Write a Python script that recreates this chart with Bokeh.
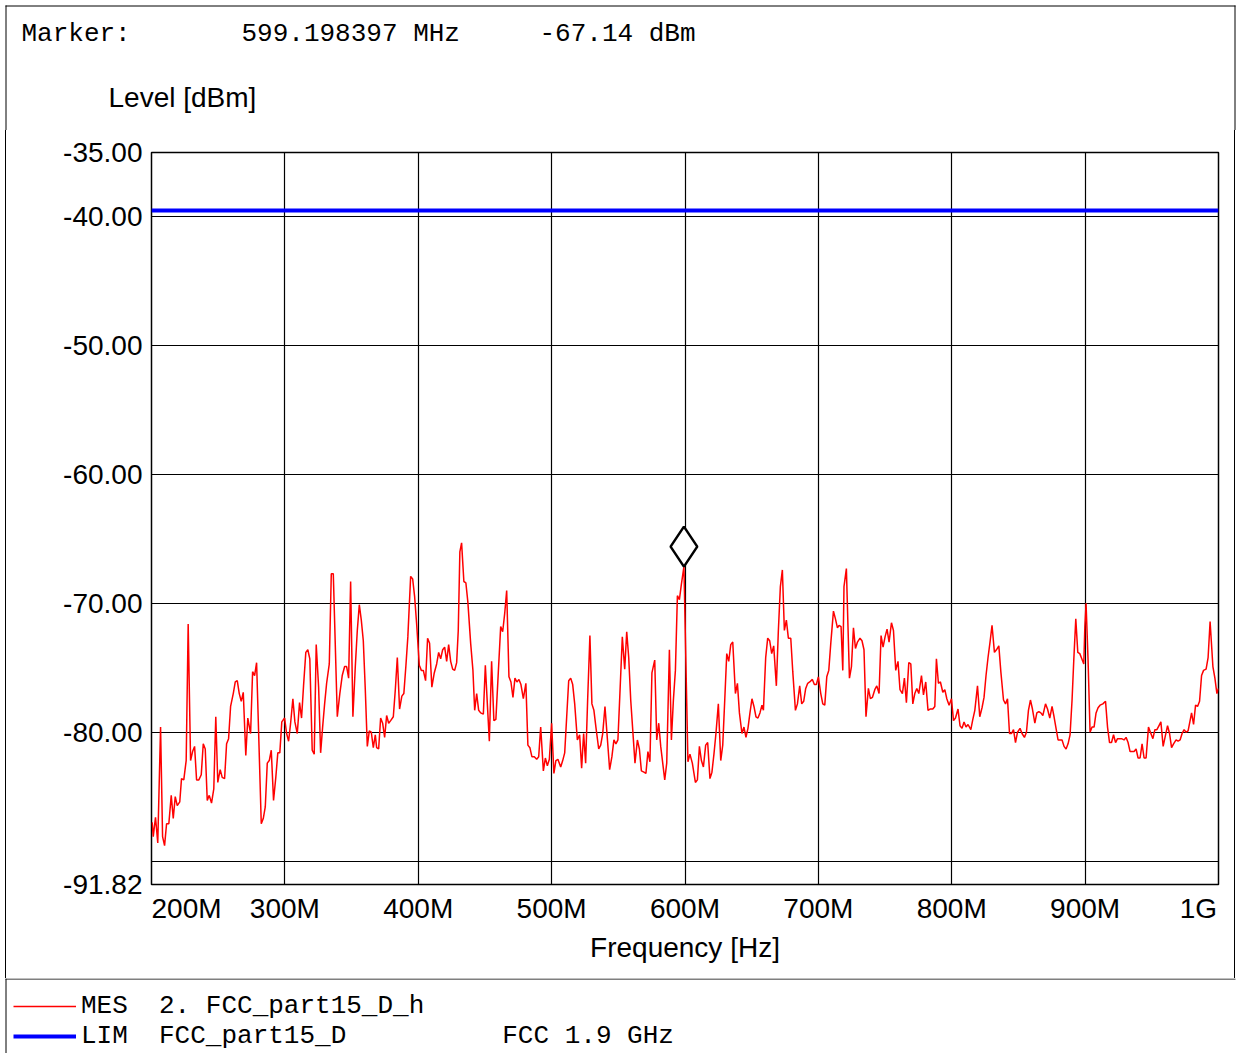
from bokeh.plotting import figure
from bokeh.layouts import column
from bokeh.models import Range1d, FixedTicker, Legend, LegendItem, ColumnDataSource
from bokeh.transform import dodge
from bokeh.core.properties import value
from bokeh.embed import file_html
from bokeh.resources import INLINE

# ---------------- data ----------------
freq_mhz = [200.5, 201.3, 203.0, 204.7, 206.8, 208.3, 209.8, 211.3, 213.0, 214.8, 216.3, 217.8, 219.3, 221.2,
            222.5, 224.2, 226.0, 227.5, 229.3, 230.8, 232.3, 233.8, 235.5, 237.3, 238.8, 240.3, 241.8, 243.3,
            245.0, 246.7, 248.2, 249.7, 251.5, 253.0, 254.8, 256.3, 257.8, 259.3, 261.3, 262.8, 264.3, 265.8,
            267.3, 268.8, 270.7, 272.2, 274.3, 275.8, 277.3, 278.8, 282.3, 283.8, 285.3, 286.8, 288.3, 289.8,
            291.5, 293.2, 294.7, 296.2, 297.7, 299.8, 301.3, 302.8, 304.3, 306.0, 307.5, 309.3, 311.0, 312.5,
            314.0, 315.7, 317.2, 318.7, 320.5, 322.0, 323.5, 325.3, 326.8, 328.3, 329.8, 331.3, 333.3, 334.8,
            336.3, 339.3, 341.2, 343.0, 344.8, 346.3, 347.8, 349.3, 351.0, 352.8, 354.3, 355.8, 357.3, 358.8,
            360.3, 361.8, 363.3, 364.8, 366.3, 367.8, 368.8, 370.3, 371.8, 373.3, 374.8, 376.3, 377.8, 379.3,
            381.3, 382.8, 384.3, 386.0, 387.7, 389.2, 390.7, 392.2, 394.3, 395.8, 397.3, 398.8, 400.8, 402.3,
            403.8, 405.5, 407.0, 408.5, 410.2, 412.0, 413.8, 415.3, 416.8, 418.3, 419.8, 421.3, 422.8, 424.3,
            425.8, 427.3, 428.8, 430.0, 431.2, 432.5, 434.2, 435.7, 437.2, 439.3, 441.0, 442.3, 443.8, 445.3,
            446.8, 448.8, 450.3, 451.8, 453.3, 455.0, 456.7, 458.2, 460.0, 461.8, 463.3, 464.8, 466.3, 468.0,
            469.5, 471.0, 472.5, 474.0, 475.5, 477.0, 478.8, 480.7, 482.2, 483.7, 485.2, 487.0, 488.8, 490.3,
            491.8, 493.8, 495.3, 496.8, 498.3, 500.0, 501.7, 503.2, 504.7, 506.8, 508.3, 509.8, 511.3, 512.8,
            514.3, 515.8, 517.3, 519.3, 521.0, 522.5, 524.0, 525.5, 527.0, 528.7, 530.2, 531.7, 533.2, 535.3,
            536.8, 538.3, 540.0, 541.5, 543.5, 545.2, 546.7, 548.2, 549.7, 551.2, 553.0, 554.8, 556.3, 557.8,
            559.3, 560.8, 562.5, 564.3, 565.8, 567.3, 569.2, 570.7, 572.2, 573.7, 575.2, 577.3, 578.8, 580.3,
            581.8, 583.3, 584.8, 586.3, 588.3, 589.8, 591.3, 592.8, 594.3, 595.8, 597.3, 599.2, 602.2, 603.7,
            605.5, 607.8, 609.3, 610.8, 612.3, 613.8, 615.5, 617.0, 618.7, 620.2, 621.7, 623.2, 625.0, 626.8,
            628.3, 629.8, 631.3, 632.8, 634.3, 635.8, 637.8, 639.3, 640.8, 642.7, 644.2, 645.7, 647.2, 648.7,
            650.2, 651.7, 653.2, 654.7, 656.2, 657.7, 658.8, 660.5, 662.0, 663.5, 665.0, 666.5, 668.5, 670.0,
            671.5, 673.0, 674.5, 676.0, 677.5, 679.3, 680.8, 682.8, 684.3, 686.0, 687.5, 689.0, 690.5, 692.0,
            693.5, 695.5, 697.0, 698.5, 700.0, 701.8, 703.3, 704.8, 706.3, 707.8, 709.3, 711.3, 712.8, 714.3,
            715.5, 717.0, 718.3, 719.2, 721.0, 722.2, 723.3, 724.8, 726.3, 727.8, 729.3, 731.2, 732.7, 734.2,
            735.7, 737.5, 739.0, 740.5, 742.3, 743.8, 745.5, 747.0, 748.5, 750.0, 751.5, 753.0, 754.8, 756.3,
            758.0, 759.7, 761.2, 763.0, 764.5, 766.0, 767.8, 769.3, 770.8, 772.3, 773.8, 775.3, 777.3, 778.8,
            780.5, 782.2, 783.7, 785.8, 787.3, 788.5, 790.0, 791.5, 793.3, 794.8, 796.3, 798.0, 799.8, 801.3,
            802.8, 804.7, 806.2, 807.7, 809.2, 810.7, 812.2, 814.3, 815.8, 817.3, 819.3, 821.0, 822.7, 824.2,
            825.7, 827.2, 828.7, 830.2, 832.0, 833.5, 835.3, 836.8, 838.8, 840.3, 841.8, 843.3, 844.8, 846.3,
            847.8, 849.3, 851.2, 852.7, 854.5, 856.0, 857.5, 859.0, 860.5, 862.3, 863.8, 865.3, 866.8, 868.3,
            870.3, 871.8, 873.5, 875.2, 876.7, 878.2, 879.7, 881.2, 882.7, 884.2, 885.7, 887.2, 888.7, 890.2,
            891.5, 893.0, 894.5, 896.0, 897.5, 899.0, 899.8, 900.7, 902.2, 903.7, 905.2, 906.7, 908.2, 909.7,
            911.2, 913.3, 915.3, 916.8, 918.3, 919.8, 921.3, 922.8, 924.3, 925.8, 927.3, 929.2, 930.7, 932.2,
            933.7, 935.2, 936.7, 938.2, 939.7, 941.2, 942.7, 944.2, 945.7, 947.5, 949.3, 950.8, 952.3, 953.8,
            955.3, 956.8, 958.5, 960.3, 961.8, 963.3, 964.8, 966.3, 968.2, 969.7, 971.2, 972.7, 974.2, 975.7,
            977.2, 978.7, 979.8, 981.3, 982.8, 984.3, 985.8, 987.3, 988.8, 990.7, 992.2, 993.7, 995.8, 997.3,
            998.8, 1000.0]

level_dbm = [-87.0, -88.1, -86.6, -88.6, -79.6, -88.1, -88.8, -87.1, -87.1, -84.9, -86.7, -85.0, -85.7, -85.4,
             -83.6, -83.7, -82.2, -71.6, -82.2, -81.5, -81.1, -83.7, -83.7, -83.3, -80.9, -81.3, -85.3, -84.9,
             -85.5, -84.4, -78.8, -83.9, -82.9, -83.5, -83.6, -80.9, -80.5, -78.0, -77.0, -76.1, -76.0, -77.0,
             -77.6, -76.9, -81.8, -78.9, -80.1, -75.3, -75.6, -74.6, -87.1, -86.7, -85.8, -82.4, -82.2, -81.4,
             -85.3, -83.5, -81.6, -81.6, -79.2, -78.9, -80.1, -80.7, -79.3, -77.4, -79.2, -80.1, -77.7, -78.9,
             -76.4, -73.8, -73.6, -74.3, -81.4, -81.7, -73.2, -76.5, -81.6, -79.6, -77.8, -76.2, -74.7, -67.7,
             -67.7, -78.8, -77.0, -75.6, -74.9, -74.9, -75.8, -68.3, -78.8, -74.9, -72.1, -70.1, -71.3, -72.9,
             -76.7, -81.1, -79.9, -80.0, -81.2, -80.2, -81.2, -81.3, -78.9, -79.3, -80.4, -78.7, -79.3, -79.1,
             -78.8, -76.7, -74.2, -78.2, -77.2, -77.0, -74.9, -72.6, -67.9, -68.1, -69.5, -71.6, -74.8, -75.2,
             -75.2, -76.0, -72.7, -73.1, -76.5, -75.4, -74.7, -73.8, -74.3, -73.6, -73.4, -74.5, -73.2, -74.5,
             -75.1, -75.2, -74.6, -72.1, -66.0, -65.3, -68.3, -68.4, -69.9, -73.1, -75.2, -78.3, -77.0, -78.3,
             -78.5, -78.6, -74.8, -77.8, -80.7, -74.5, -79.1, -79.0, -75.4, -71.8, -72.2, -70.8, -69.0, -75.7,
             -76.1, -77.3, -75.8, -76.1, -75.9, -76.3, -77.4, -76.2, -81.0, -81.2, -81.9, -81.9, -82.1, -81.9,
             -79.6, -83.0, -82.0, -82.6, -82.1, -79.3, -83.2, -82.2, -82.1, -82.7, -82.2, -81.6, -78.8, -76.0,
             -75.8, -76.3, -77.8, -80.6, -80.2, -82.8, -80.1, -82.4, -77.5, -72.5, -77.8, -78.3, -79.6, -81.3,
             -81.0, -80.1, -78.0, -80.1, -82.9, -81.9, -80.6, -80.9, -80.6, -77.0, -72.6, -75.1, -72.2, -74.2,
             -77.5, -79.8, -82.4, -80.6, -81.3, -83.0, -83.1, -83.2, -81.5, -82.3, -75.4, -74.4, -80.6, -79.3,
             -81.1, -82.4, -83.7, -82.4, -73.6, -80.6, -77.5, -75.2, -69.4, -69.7, -68.5, -67.14, -82.3, -81.7,
             -82.4, -83.9, -83.7, -81.1, -82.2, -82.7, -81.0, -80.8, -83.6, -83.1, -81.7, -80.1, -77.8, -82.2,
             -81.0, -77.5, -73.9, -74.5, -73.2, -73.0, -77.0, -76.2, -78.5, -80.1, -79.6, -80.4, -79.7, -78.5,
             -77.4, -78.0, -78.8, -78.9, -78.5, -77.9, -78.3, -74.2, -72.7, -72.9, -73.9, -73.3, -76.4, -72.1,
             -68.7, -67.4, -72.1, -71.3, -72.7, -72.7, -75.3, -78.3, -77.8, -76.4, -77.8, -77.6, -76.6, -76.2,
             -76.1, -75.9, -76.3, -76.3, -75.7, -77.0, -77.8, -77.9, -75.7, -75.2, -73.1, -70.6, -71.2, -71.9,
             -71.7, -71.8, -75.2, -68.7, -67.3, -71.8, -75.8, -74.9, -71.9, -73.5, -73.0, -72.7, -72.9, -73.6,
             -78.8, -76.6, -77.4, -77.3, -76.7, -76.4, -77.0, -72.5, -73.4, -72.6, -72.0, -73.0, -71.5, -72.1,
             -75.2, -74.5, -76.7, -77.0, -75.8, -77.7, -74.6, -74.7, -77.8, -77.0, -76.6, -77.0, -75.6, -77.1,
             -76.1, -78.3, -78.2, -78.2, -78.0, -74.3, -76.2, -76.1, -76.9, -76.7, -77.4, -77.9, -77.4, -79.1,
             -78.9, -78.2, -79.5, -79.7, -79.2, -79.6, -79.4, -79.8, -79.0, -78.3, -76.4, -78.8, -78.1, -77.3,
             -75.6, -74.2, -73.0, -71.7, -73.8, -73.6, -73.3, -75.3, -77.5, -77.8, -77.4, -80.1, -80.1, -79.8,
             -80.8, -80.0, -79.7, -80.1, -80.4, -80.0, -78.3, -77.5, -78.2, -79.3, -78.5, -78.4, -78.5, -78.7,
             -77.8, -78.2, -78.9, -78.0, -78.8, -79.7, -80.6, -80.6, -80.6, -81.1, -81.3, -80.9, -80.2, -77.5,
             -74.4, -71.2, -73.8, -73.9, -74.3, -74.7, -71.8, -70.0, -74.4, -80.0, -79.6, -79.6, -78.5, -78.1,
             -77.9, -77.8, -77.6, -79.6, -80.8, -80.8, -80.2, -80.8, -80.5, -80.5, -80.5, -80.6, -80.4, -80.8,
             -81.5, -81.5, -81.5, -81.3, -82.0, -82.0, -80.9, -82.0, -82.0, -79.6, -80.1, -80.5, -79.8, -79.8,
             -79.5, -79.2, -81.1, -80.2, -79.5, -80.1, -81.2, -80.9, -80.6, -80.7, -80.6, -80.1, -79.8, -80.0,
             -79.9, -79.1, -78.5, -79.4, -77.9, -78.0, -77.6, -75.6, -75.2, -75.1, -74.2, -71.4, -74.9, -75.8,
             -77.0, -76.6]

limit_freq = [200.0, 1000.0]
limit_dbm = [-39.5, -39.5]

marker_freq = [599.198397]
marker_dbm = [-67.14]

x_ticks = [200, 300, 400, 500, 600, 700, 800, 900, 1000]
x_tick_labels = ["200M", "300M", "400M", "500M", "600M", "700M", "800M", "900M", "1G"]
y_ticks = [-91.82, -90, -80, -70, -60, -50, -40, -35]
y_tick_labels = ["-91.82", "", "-80.00", "-70.00", "-60.00", "-50.00", "-40.00", "-35.00"]

legend_names = ["MES", "LIM"]
legend_texts = [["2. FCC_part15_D_h"], ["FCC_part15_D", "FCC 1.9 GHz"]]

SANS = "Liberation Sans"
MONO = "Liberation Mono"
NB = "\u00a0"
W = 1240
H_HEAD, H_MAIN, H_FOOT = 130, 848, 75
NAN = float("nan")


def bare(h):
    f = figure(width=W, height=h, output_backend="svg", toolbar_location=None,
               x_range=Range1d(0, W), y_range=Range1d(h, 0),
               x_axis_type=None, y_axis_type=None, min_border=0)
    if "frame_align" in f.properties():
        f.frame_align = False
    f.outline_line_color = None
    f.background_fill_color = "white"
    f.border_fill_color = "white"
    return f


# ---------------- header ----------------
head = bare(H_HEAD)
marker_line = ["Marker:", f"{marker_freq[0]:.6f} MHz", f"{marker_dbm[0]:.2f} dBm"]
head.text(x=[21, 241, 539], y=[33, 33, 33], text=marker_line,
          text_font=value(MONO), text_font_size="26px", text_color="black",
          text_baseline="middle", text_align="left")
head.text(x=[108], y=[97], text=["Level [dBm]"],
          text_font=value(SANS), text_font_size="28px", text_color="black",
          text_baseline="middle", text_align="left")
head.segment(x0=[5, 5.5, 1234.5], y0=[5.5, 5, 5], x1=[1235, 5.5, 1234.5], y1=[5.5, H_HEAD, H_HEAD],
             line_color="black", line_width=1)

# ---------------- main chart ----------------
p = figure(width=W, height=H_MAIN, output_backend="svg", toolbar_location=None,
           x_range=Range1d(x_ticks[0], x_ticks[-1]), y_range=Range1d(y_ticks[0], y_ticks[-1]),
           min_border_left=151, min_border_right=22, min_border_top=22,
           min_border_bottom=H_MAIN - 22 - 732,
           styles={"background": "linear-gradient(#000,#000) 5px 0px / 1px 100% no-repeat, "
                                 "linear-gradient(#000,#000) 1234px 0px / 1px 100% no-repeat, #ffffff"})
if "frame_align" in p.properties():
    p.frame_align = False
p.background_fill_color = "white"
p.border_fill_color = None
p.outline_line_color = "black"
p.outline_line_width = 1.5

p.xaxis.ticker = FixedTicker(ticks=x_ticks)
p.yaxis.ticker = FixedTicker(ticks=y_ticks)
x_over = {t: lab for t, lab in zip(x_ticks, x_tick_labels)}
x_over[x_ticks[0]] = NB * 9 + x_tick_labels[0]
x_over[x_ticks[-1]] = x_tick_labels[-1] + NB * 3
p.xaxis.major_label_overrides = x_over
p.yaxis.major_label_overrides = {t: lab for t, lab in zip(y_ticks, y_tick_labels)}

for ax in (p.xaxis[0], p.yaxis[0]):
    ax.axis_line_color = None
    ax.major_tick_line_color = None
    ax.minor_tick_line_color = None
    ax.major_label_text_font = SANS
    ax.major_label_text_font_size = "28px"
    ax.major_label_text_color = "black"
p.yaxis.major_label_standoff = 3
p.xaxis.major_label_standoff = 2
p.xaxis.axis_label = "Frequency [Hz]"
p.xaxis.axis_label_text_font = SANS
p.xaxis.axis_label_text_font_size = "28px"
p.xaxis.axis_label_text_font_style = "normal"
p.xaxis.axis_label_text_color = "black"
p.xaxis.axis_label_standoff = 5

p.xgrid.ticker = FixedTicker(ticks=x_ticks)
p.ygrid.ticker = FixedTicker(ticks=y_ticks)
for g in (p.xgrid[0], p.ygrid[0]):
    g.grid_line_color = "black"
    g.grid_line_width = 1.2
    g.grid_line_alpha = 1.0

p.line(freq_mhz, level_dbm, line_color="#ff0000", line_width=1.5)
p.line(limit_freq, limit_dbm, line_color="#0000ff", line_width=4)
msrc = ColumnDataSource(dict(x=marker_freq, y=marker_dbm))
p.scatter(x="x", y=dodge("y", 1.55, range=p.y_range), source=msrc,
          marker="diamond", size=40, line_color="black", line_width=2.5, fill_color="white")

# ---------------- footer (legend) ----------------
foot = bare(H_FOOT)
foot.segment(x0=[5, 5.5], y0=[0.5, 0], x1=[1235, 5.5], y1=[0.5, H_FOOT], line_color="black", line_width=1)
r_mes = foot.line(x=[NAN], y=[NAN], line_color="#ff0000", line_width=1.5)
r_lim = foot.line(x=[NAN], y=[NAN], line_color="#0000ff", line_width=4)
lab_mes = legend_names[0] + NB * 2 + legend_texts[0][0].replace(" ", NB)
lab_lim = legend_names[1] + NB * 2 + legend_texts[1][0] + NB * 10 + legend_texts[1][1].replace(" ", NB)
legend = Legend(items=[LegendItem(label=lab_mes, renderers=[r_mes]),
                       LegendItem(label=lab_lim, renderers=[r_lim])],
                location=(13, 2), orientation="vertical",
                glyph_width=63, glyph_height=28, label_height=28, label_standoff=5,
                spacing=0, padding=0, margin=0,
                border_line_color=None, background_fill_alpha=0,
                label_text_font=MONO, label_text_font_size="26px", label_text_color="black")
foot.add_layout(legend)

layout = column(head, p, foot, spacing=0)
open("out.html", "w").write(file_html(layout, INLINE))
